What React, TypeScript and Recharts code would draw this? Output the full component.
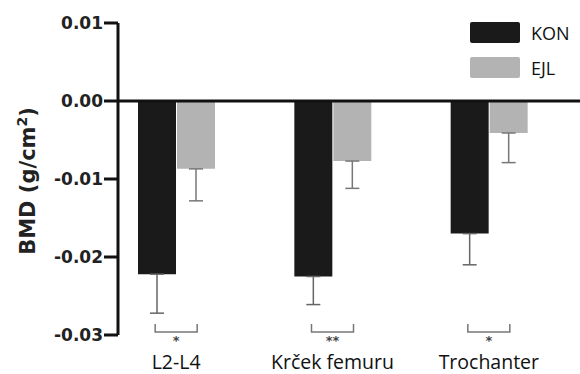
import React from 'react';
import {
  BarChart,
  Bar,
  XAxis,
  YAxis,
  Legend,
  ErrorBar,
  ReferenceLine,
} from 'recharts';

const categories = ['L2-L4', 'Krček femuru', 'Trochanter'];
const konValues = [-0.0222, -0.0225, -0.017];
const konErrors = [0.005, 0.0036, 0.004];
const ejlValues = [-0.0087, -0.0077, -0.0041];
const ejlErrors = [0.0041, 0.0035, 0.0038];
const significance = ['*', '**', '*'];
const yTicks = [0.01, 0, -0.01, -0.02, -0.03];
const legendOrder = ['KON', 'EJL'];

const data = categories.map((name, i) => ({
  name,
  kon: konValues[i],
  konErr: [konErrors[i], 0],
  ejl: ejlValues[i],
  ejlErr: [ejlErrors[i], 0],
}));

const boldFont = "'DejaVu Sans', sans-serif";

const CategoryTick = (props: any) => {
  const { x, y, payload, index } = props;
  return (
    <g>
      <path
        d={`M${x - 21} ${y - 11} V${y - 3} H${x + 21} V${y - 11}`}
        fill="none"
        stroke="#777"
        strokeWidth={1.5}
      />
      <text
        x={x}
        y={y + 10}
        textAnchor="middle"
        fontSize={13}
        fontWeight="bold"
        fontFamily={boldFont}
        fill="#444"
      >
        {significance[index]}
      </text>
      <text
        x={x}
        y={y + 34}
        textAnchor="middle"
        fontSize={19.5}
        fontFamily="'Open Sans', sans-serif"
        fill="#111"
      >
        {payload.value}
      </text>
    </g>
  );
};

const ValueTick = (props: any) => {
  const { x, y, payload } = props;
  return (
    <text
      x={x}
      y={y}
      textAnchor="end"
      dominantBaseline="central"
      fontSize={17}
      fontWeight="bold"
      fontFamily={boldFont}
      fill="#222"
    >
      {payload.value.toFixed(2)}
    </text>
  );
};

const LegendContent = (props: any) => {
  const items = [...(props.payload || [])].sort(
    (a: any, b: any) => legendOrder.indexOf(a.value) - legendOrder.indexOf(b.value)
  );
  return (
    <div>
      {items.map((entry: any) => (
        <div
          key={entry.value}
          style={{ display: 'flex', alignItems: 'center', height: 21, marginBottom: 14 }}
        >
          <div style={{ width: 50, height: 21, background: entry.color, borderRadius: 2 }} />
          <span
            style={{
              marginLeft: 11,
              fontSize: 18,
              fontFamily: "'Open Sans', sans-serif",
              color: '#111',
            }}
          >
            {entry.value}
          </span>
        </div>
      ))}
    </div>
  );
};

const YLabel = (props: any) => {
  const { viewBox } = props;
  const cy = viewBox.y + viewBox.height / 2 + 2;
  return (
    <text
      x={35}
      y={cy}
      transform={`rotate(-90 35 ${cy})`}
      textAnchor="middle"
      fontSize={21}
      fontWeight="bold"
      fontFamily={boldFont}
      fill="#222"
    >
      BMD (g/cm<tspan dy={-8} fontSize={14}>2</tspan>
      <tspan dy={8}>)</tspan>
    </text>
  );
};

export default function App() {
  return (
    <div style={{ position: 'absolute', left: 0, top: 0, background: '#fff' }}>
      <BarChart
        width={580}
        height={374}
        data={data}
        margin={{ top: 23, right: 0, left: 0, bottom: 0 }}
        barSize={38}
        barGap={1}
      >
        <XAxis
          dataKey="name"
          height={39}
          axisLine={false}
          tickLine={false}
          tickSize={0}
          tickMargin={0}
          interval={0}
          padding={{ left: -20, right: 13 }}
          tick={<CategoryTick />}
        />
        <YAxis
          width={118}
          domain={[-0.03, 0.01]}
          ticks={yTicks}
          interval={0}
          axisLine={{ stroke: '#111', strokeWidth: 3 }}
          tickLine={{ stroke: '#111', strokeWidth: 3 }}
          tickSize={14}
          tickMargin={1}
          tick={<ValueTick />}
          label={<YLabel />}
        />
        <Legend
          layout="horizontal"
          verticalAlign="middle"
          align="center"
          content={<LegendContent />}
          wrapperStyle={{ position: 'absolute', top: 22, left: 470, width: 110, height: 80 }}
        />
        <Bar dataKey="kon" name="KON" fill="#1a1a1a" isAnimationActive={false}>
          <ErrorBar dataKey="konErr" width={7} stroke="#666" strokeWidth={1.5} direction="y" />
        </Bar>
        <Bar dataKey="ejl" name="EJL" fill="#b3b3b3" isAnimationActive={false}>
          <ErrorBar dataKey="ejlErr" width={7} stroke="#777" strokeWidth={1.5} direction="y" />
        </Bar>
        <ReferenceLine y={0} stroke="#111" strokeWidth={3} />
      </BarChart>
    </div>
  );
}
